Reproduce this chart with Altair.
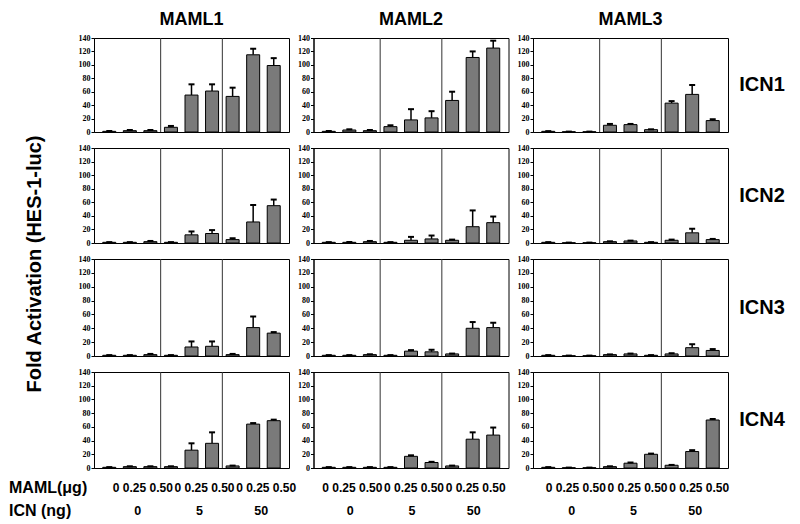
import altair as alt
import pandas as pd

COLUMNS = ["MAML1", "MAML2", "MAML3"]
ROWS = ["ICN1", "ICN2", "ICN3", "ICN4"]
MAML_DOSES = ["0", "0.25", "0.50"]
ICN_DOSES = ["0", "5", "50"]
BAR_POS = [0, 1, 2, 3, 4, 5, 6, 7, 8]
GROUP_POS = [1, 4, 7]
SEPARATORS = [2.5, 5.5]
Y_TICKS = [0, 20, 40, 60, 80, 100, 120, 140]

# Fold activation values (mean) and upper error, per MAML column / ICN row
M1_ICN1 = [1, 2, 2, 7, 55, 61, 53, 115, 99]
M1_ICN1_ERR = [0.5, 1, 1, 2, 16, 10, 13, 9, 11]
M2_ICN1 = [1, 3, 2, 8, 18, 21, 47, 111, 125]
M2_ICN1_ERR = [0.5, 1, 1, 2, 16, 10, 13, 9, 11]
M3_ICN1 = [1, 0.4, 0.4, 10, 11, 3.5, 43, 56, 17]
M3_ICN1_ERR = [0.3, 0.2, 0.2, 2, 1, 0.5, 3, 14, 2]

M1_ICN2 = [1, 1, 2, 1, 12, 14, 5, 31, 55]
M1_ICN2_ERR = [0.3, 0.3, 1, 0.3, 5, 5, 2, 25, 9]
M2_ICN2 = [1, 1, 2, 1, 4, 6, 4, 24, 30]
M2_ICN2_ERR = [0.3, 0.5, 1, 0.3, 5, 5, 1, 24, 9]
M3_ICN2 = [1, 0.4, 0.4, 2, 3, 1, 4, 15, 5]
M3_ICN2_ERR = [0.3, 0.2, 0.2, 0.5, 0.5, 0.3, 1, 6, 1]

M1_ICN3 = [1, 1, 2, 1, 13, 14, 2, 41, 33]
M1_ICN3_ERR = [0.3, 0.3, 1, 0.3, 8, 7, 1, 16, 1.5]
M2_ICN3 = [1, 1, 2, 1, 7, 6, 3, 40, 41]
M2_ICN3_ERR = [0.3, 0.3, 0.5, 0.3, 1.5, 3, 0.5, 9, 7]
M3_ICN3 = [1, 0.4, 0.4, 2, 3, 1, 3, 12, 8]
M3_ICN3_ERR = [0.3, 0.2, 0.2, 0.3, 0.5, 0.3, 1, 5, 2]

M1_ICN4 = [1, 2, 2, 2, 26, 36, 3, 64, 69]
M1_ICN4_ERR = [0.3, 0.5, 0.5, 0.5, 10, 16, 0.5, 1.5, 1.5]
M2_ICN4 = [1, 1, 1, 1, 17, 8, 3, 42, 48]
M2_ICN4_ERR = [0.3, 0.3, 0.3, 0.3, 1.5, 1, 0.5, 10, 11]
M3_ICN4 = [1, 0.4, 0.4, 2, 7, 20, 4, 24, 70]
M3_ICN4_ERR = [0.3, 0.2, 0.2, 0.5, 1, 1, 0.5, 2, 1.5]

DATA = [
    [(M1_ICN1, M1_ICN1_ERR), (M1_ICN2, M1_ICN2_ERR), (M1_ICN3, M1_ICN3_ERR), (M1_ICN4, M1_ICN4_ERR)],
    [(M2_ICN1, M2_ICN1_ERR), (M2_ICN2, M2_ICN2_ERR), (M2_ICN3, M2_ICN3_ERR), (M2_ICN4, M2_ICN4_ERR)],
    [(M3_ICN1, M3_ICN1_ERR), (M3_ICN2, M3_ICN2_ERR), (M3_ICN3, M3_ICN3_ERR), (M3_ICN4, M3_ICN4_ERR)],
]

W = 195
HEIGHTS = [94, 95, 97, 96]
DOSE_DX = [13, 3, 7]
GROUP_DX = [8, 1, 3]
SANS = "Liberation Sans"
SERIF = "Liberation Serif"

xscale = alt.Scale(domain=[-0.5, 8.5], nice=False, zero=False)
yscale = alt.Scale(domain=[0, 140], nice=False)
yaxis = alt.Axis(values=Y_TICKS, title=None, grid=False, labelFont=SERIF,
                 labelFontWeight="bold", labelFontSize=8, labelColor="black",
                 tickColor="black", tickSize=3, domainColor="black", labelPadding=1)


def panel(ci, ri):
    vals, errs = DATA[ci][ri]
    h = HEIGHTS[ri]
    df = pd.DataFrame({"pos": BAR_POS, "value": vals, "err": errs})
    base = alt.Chart(df).transform_calculate(top="datum.value + datum.err")
    x = alt.X("pos:Q", scale=xscale, axis=None)
    seps = alt.Chart(pd.DataFrame({"pos": SEPARATORS})).mark_rule(
        color="#333333", strokeWidth=1).encode(x=x)
    err_line = base.mark_rule(color="black", strokeWidth=1.5).encode(
        x=x, y=alt.Y("value:Q", scale=yscale, axis=yaxis), y2="top:Q")
    bars = base.mark_bar(orient="vertical", size=13, color="#7a7a7a",
                         stroke="black", strokeWidth=1).encode(
        x=x, y=alt.Y("value:Q", scale=yscale, axis=yaxis))
    caps = base.mark_tick(orient="horizontal", size=6, thickness=2,
                          color="black", opacity=1).encode(
        x=x, y=alt.Y("top:Q", scale=yscale, axis=yaxis))
    layers = [seps, err_line, bars, caps]

    if ci == 2:
        layers.append(alt.Chart(pd.DataFrame({"t": [ROWS[ri]]})).mark_text(
            font=SANS, fontWeight="bold", fontSize=20, align="center",
            baseline="middle", color="black").encode(
            x=alt.value(W + 34), y=alt.value(h / 2), text="t:N"))
    if ri == 3:
        dose_text = " ".join(MAML_DOSES)
        layers.append(alt.Chart(pd.DataFrame({"pos": GROUP_POS, "t": [dose_text] * 3})).mark_text(
            font=SANS, fontWeight="bold", fontSize=12, align="center",
            baseline="middle", color="black", dx=DOSE_DX[ci]).encode(
            x=x, y=alt.value(h + 20), text="t:N"))
        layers.append(alt.Chart(pd.DataFrame({"pos": GROUP_POS, "t": ICN_DOSES})).mark_text(
            font=SANS, fontWeight="bold", fontSize=12.5, align="center",
            baseline="middle", color="black", dx=GROUP_DX[ci]).encode(
            x=x, y=alt.value(h + 43), text="t:N"))
        if ci == 0:
            layers.append(alt.Chart(pd.DataFrame({"t": ["MAML(\u03bcg)"]})).mark_text(
                font=SANS, fontWeight="bold", fontSize=16, align="left",
                baseline="middle", color="black").encode(
                x=alt.value(-85), y=alt.value(h + 20), text="t:N"))
            layers.append(alt.Chart(pd.DataFrame({"t": ["ICN (ng)"]})).mark_text(
                font=SANS, fontWeight="bold", fontSize=16, align="left",
                baseline="middle", color="black").encode(
                x=alt.value(-85), y=alt.value(h + 43), text="t:N"))
    if ci == 0 and ri == 2:
        layers.append(alt.Chart(pd.DataFrame({"t": ["Fold Activation (HES-1-luc)"]})).mark_text(
            font=SANS, fontWeight="bold", fontSize=20, align="center",
            baseline="middle", angle=270, color="black").encode(
            x=alt.value(-59), y=alt.value(5), text="t:N"))

    ch = alt.layer(*layers).properties(width=W, height=h)
    if ri == 0:
        ch = ch.properties(title=alt.TitleParams(
            COLUMNS[ci], font=SANS, fontSize=18, fontWeight="bold",
            color="black", offset=5))
    return ch


panels = [panel(ci, ri) for ri in range(4) for ci in range(3)]
chart = alt.concat(*panels, columns=3, bounds="flush", align="each",
                   spacing={"row": 16, "column": 24.5}).properties(
    padding={"left": 0, "top": 2, "right": 5, "bottom": 0},
    background="white",
).configure_view(stroke="black", strokeWidth=1)

chart.save("out.html", embed_options={"renderer": "svg", "actions": False})
